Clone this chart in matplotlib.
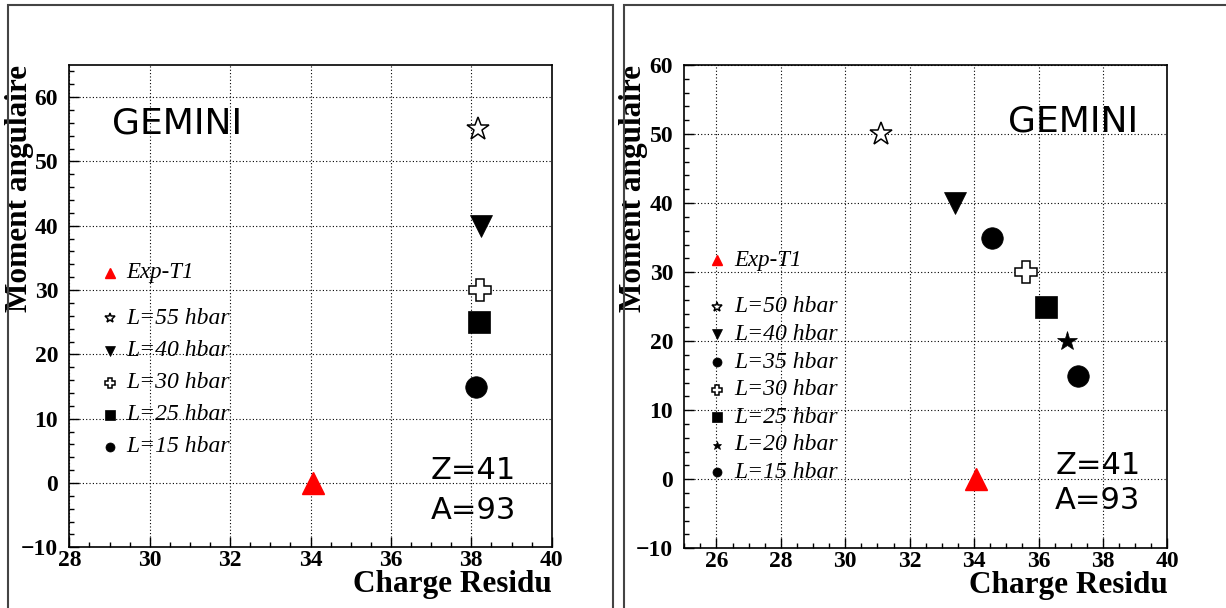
import matplotlib
matplotlib.use("Agg")
import matplotlib.pyplot as plt
from matplotlib.patches import Rectangle
from matplotlib.ticker import MultipleLocator

# ---- data ----
exp_x = [34.05]
exp_y = [0]

left_L = [55, 40, 30, 25, 15]
left_x = [38.17, 38.25, 38.22, 38.20, 38.12]

right_L = [50, 40, 35, 30, 25, 20, 15]
right_x = [31.12, 33.40, 34.56, 35.60, 36.24, 36.90, 37.24]

# marker style per angular momentum: (marker, filled, size in pt)
STYLE = {
    55: ("*", False, 17),
    50: ("*", False, 17),
    40: ("v", True, 16),
    35: ("o", True, 15.5),
    30: ("P", False, 16.5),
    25: ("s", True, 15.5),
    20: ("*", True, 15),
    15: ("o", True, 15.5),
}

SERIF = "Liberation Serif"
W, H = 1226, 608


def _style_axes(ax, xlim, ylim, ylab_x):
    ax.set_xlim(*xlim)
    ax.set_ylim(*ylim)
    ax.xaxis.set_major_locator(MultipleLocator(2))
    ax.xaxis.set_minor_locator(MultipleLocator(0.5))
    ax.yaxis.set_major_locator(MultipleLocator(10))
    ax.yaxis.set_minor_locator(MultipleLocator(2))
    ax.tick_params(which="both", direction="in", top=False, right=False,
                   width=1.0, color="black")
    ax.tick_params(which="major", length=7)
    ax.tick_params(which="minor", length=3.5)
    ax.tick_params(axis="y", pad=8)
    ax.tick_params(axis="x", pad=2)
    for lab in ax.get_xticklabels() + ax.get_yticklabels():
        lab.set_fontfamily(SERIF)
        lab.set_fontweight("bold")
        lab.set_fontsize(17)
    for sp in ax.spines.values():
        sp.set_linewidth(1.2)
    ax.grid(True, which="major", color="black", linestyle=(0, (1, 2)),
            linewidth=0.8)
    ax.set_axisbelow(True)
    ax.set_xlabel("Charge Residu", loc="right", fontsize=22.5,
                  fontweight="bold", family=SERIF, labelpad=-1)
    ax.set_ylabel("Moment angulaire", loc="top", fontsize=22.5,
                  fontweight="bold", family=SERIF)
    ax.yaxis.set_label_coords(ylab_x, 1.0)


def _point(ax, x, y, L, scale=1.0, **kw):
    marker, filled, ms = STYLE[L]
    ax.plot(x, y, linestyle="none", marker=marker, markersize=ms * scale,
            markerfacecolor="black" if filled else "white",
            markeredgecolor="black", markeredgewidth=1.1 if not filled else 0.5,
            **kw)


def _legend(ax, Ls, mx, tx, y_exp, y0, step):
    ax.plot([mx], [y_exp], linestyle="none", marker="^", markersize=6.5,
            color="red", transform=ax.transAxes, clip_on=False)
    ax.text(tx, y_exp, "Exp-T1", transform=ax.transAxes, ha="left",
            va="center", fontsize=16.5, style="italic", family=SERIF)
    for i, L in enumerate(Ls):
        y = y0 - i * step
        _point(ax, [mx], [y], L, scale=0.42, transform=ax.transAxes,
               clip_on=False)
        ax.text(tx, y, f"L={L} hbar", transform=ax.transAxes, ha="left",
                va="center", fontsize=17, style="italic", family=SERIF)


def _texts(ax, gx, gy, zx, zy, ay):
    ax.text(gx, gy, "GEMINI", transform=ax.transAxes, ha="left",
            va="center", fontsize=26, family="DejaVu Sans")
    ax.text(zx, zy, "Z=41", transform=ax.transAxes, ha="left",
            va="center", fontsize=22, family="DejaVu Sans")
    ax.text(zx, ay, "A=93", transform=ax.transAxes, ha="left",
            va="center", fontsize=22, family="DejaVu Sans")


fig = plt.figure(figsize=(W / 100, H / 100), dpi=100)

# pad frames around each panel
for x0, x1 in ((8, 612.5), (624.3, 1240)):
    fig.patches.append(Rectangle((x0 / W, -0.05), (x1 - x0) / W, 1 - 5 / H + 0.05,
                                 transform=fig.transFigure, fill=False,
                                 edgecolor="#444444", linewidth=1.5))

# ---- left panel ----
axl = fig.add_axes([69.3 / W, (H - 547.3) / H, 482.4 / W, 482.3 / H])
for x, L in zip(left_x, left_L):
    _point(axl, [x], [L], L, zorder=3)
axl.plot(exp_x, exp_y, linestyle="none", marker="^", markersize=16,
         color="red", zorder=3)
_style_axes(axl, (28, 40), (-10, 65), -0.074)
_legend(axl, left_L, 0.084, 0.119, 0.569, 0.4745, 0.0666)
_texts(axl, 0.0885, 0.878, 0.750, 0.160, 0.077)

# ---- right panel ----
axr = fig.add_axes([684.3 / W, (H - 548.3) / H, 483 / W, 483.3 / H])
for x, L in zip(right_x, right_L):
    _point(axr, [x], [L], L, zorder=3)
axr.plot(exp_x, exp_y, linestyle="none", marker="^", markersize=16,
         color="red", zorder=3)
_style_axes(axr, (25, 40), (-10, 60), -0.075)
_legend(axr, right_L, 0.068, 0.104, 0.596, 0.4996, 0.0571)
_texts(axr, 0.671, 0.883, 0.768, 0.172, 0.098)

fig.savefig("out.png", dpi=100)
